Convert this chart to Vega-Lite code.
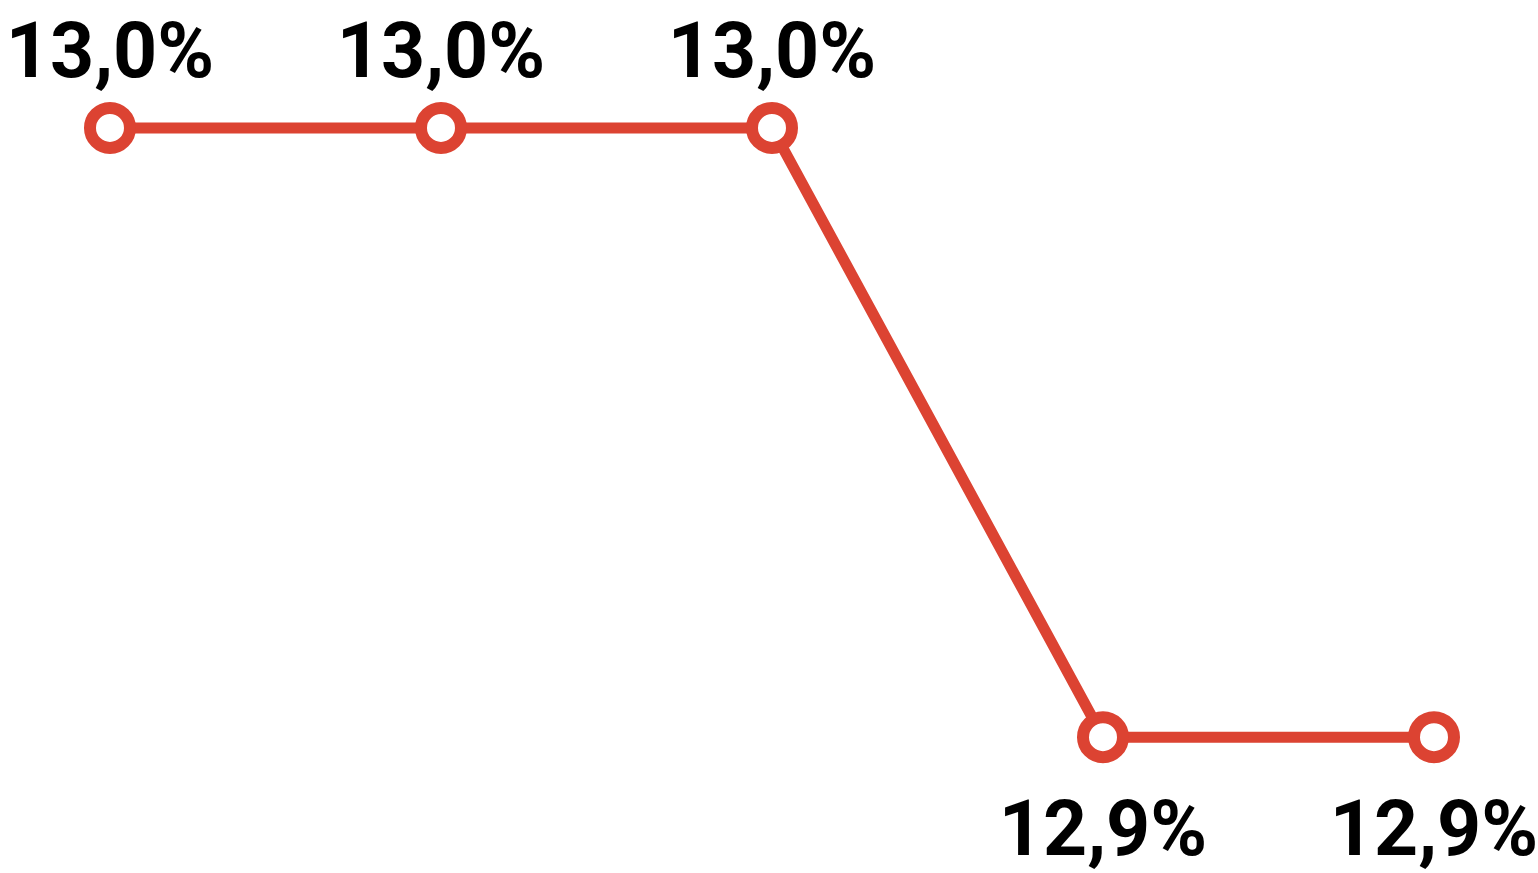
{
  "$schema": "https://vega.github.io/schema/vega-lite/v6.json",
  "autosize": {"type": "none"},
  "width": 1538,
  "height": 873,
  "padding": 0,
  "background": "white",
  "config": {"view": {"stroke": null}},
  "data": {"values": [
    {"i": 0, "v": 13.0, "label": "13,0%", "pos": "top"},
    {"i": 1, "v": 13.0, "label": "13,0%", "pos": "top"},
    {"i": 2, "v": 13.0, "label": "13,0%", "pos": "top"},
    {"i": 3, "v": 12.9, "label": "12,9%", "pos": "bottom"},
    {"i": 4, "v": 12.9, "label": "12,9%", "pos": "bottom"}
  ]},
  "encoding": {
    "x": {"field": "i", "type": "quantitative", "scale": {"domain": [-0.3323, 4.3142], "nice": false, "zero": false}, "axis": null},
    "y": {"field": "v", "type": "quantitative", "scale": {"domain": [12.8777, 13.021], "nice": false, "zero": false}, "axis": null}
  },
  "layer": [
    {"mark": {"type": "line", "color": "#DC4332", "strokeWidth": 11}},
    {"mark": {"type": "point", "shape": "circle", "filled": false, "fill": "white", "fillOpacity": 1, "stroke": "#DC4332", "strokeWidth": 12, "size": 1600, "opacity": 1}},
    {"transform": [{"filter": "datum.pos == 'top'"}],
     "mark": {"type": "text", "font": "Roboto", "fontWeight": "bold", "fontSize": 77, "baseline": "alphabetic", "align": "center", "dy": -51, "color": "black"},
     "encoding": {"text": {"field": "label"}}},
    {"transform": [{"filter": "datum.pos == 'bottom'"}],
     "mark": {"type": "text", "font": "Roboto", "fontWeight": "bold", "fontSize": 77, "baseline": "alphabetic", "align": "center", "dy": 118, "color": "black"},
     "encoding": {"text": {"field": "label"}}}
  ]
}
